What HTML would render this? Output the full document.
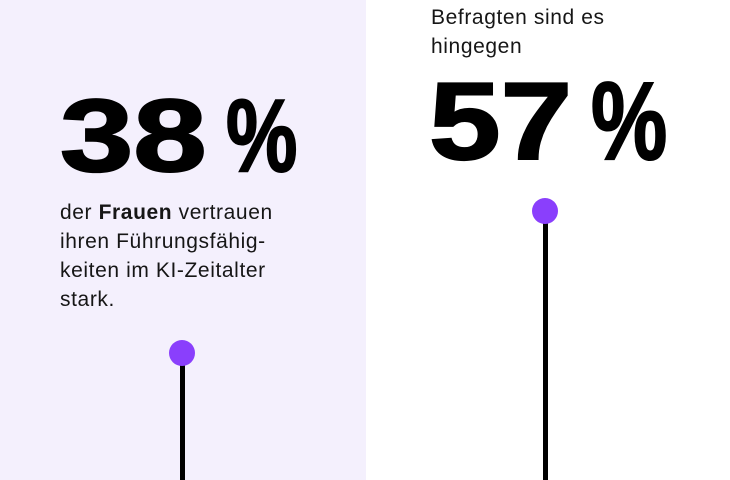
<!DOCTYPE html>
<html><head><meta charset="utf-8"><style>
html,body{margin:0;padding:0;}
body{width:730px;height:480px;position:relative;overflow:hidden;background:#fff;font-family:"Liberation Sans",sans-serif;color:#161616;}
.l{position:absolute;left:0;top:0;width:366px;height:480px;background:#f4f0fd;}
.big{position:absolute;font-weight:bold;color:#000;line-height:1;white-space:nowrap;transform-origin:0 0;-webkit-text-stroke:2px #000;}
.t{position:absolute;font-size:21px;letter-spacing:0.6px;line-height:29px;white-space:nowrap;}
.dot{position:absolute;width:26px;height:26px;border-radius:50%;background:#8a3ffc;}
.bar{position:absolute;width:5px;background:#000;}
</style></head><body>
<div class="l"></div>
<div class="big" style="left:60px;top:84px;font-size:103px;transform:scaleX(1.28);">38</div>
<div class="big" style="left:226px;top:84px;font-size:103px;transform:scaleX(0.78);">%</div>
<div class="t" style="left:60px;top:198px;">der <b>Frauen</b> vertrauen<br>ihren Führungsfähig-<br>keiten im KI-Zeitalter<br>stark.</div>
<div class="bar" style="left:180px;top:353px;height:127px;"></div>
<div class="dot" style="left:169px;top:340px;"></div>

<div class="t" style="left:431px;top:-26px;">der männlichen</div>
<div class="t" style="left:431px;top:3px;">Befragten sind es<br>hingegen</div>
<div class="big" style="left:429px;top:67px;font-size:110px;transform:scaleX(1.17);">57</div>
<div class="big" style="left:591px;top:67px;font-size:110px;transform:scaleX(0.78);">%</div>
<div class="bar" style="left:543px;top:211px;height:269px;"></div>
<div class="dot" style="left:532px;top:198px;"></div>
</body></html>
